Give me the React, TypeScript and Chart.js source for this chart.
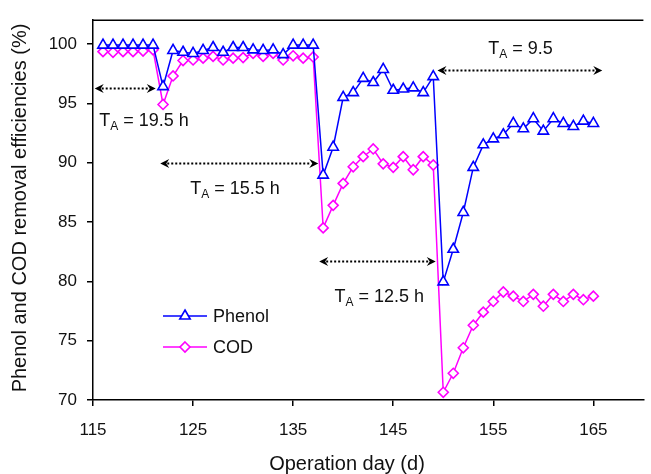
import React, { useEffect, useRef } from 'react';
import { Chart, registerables } from 'chart.js';

Chart.register(...registerables);

const days: number[] = [
  116, 117, 118, 119, 120, 121, 122, 123, 124, 125, 126, 127, 128, 129, 130, 131, 132, 133, 134, 135,
  136, 137, 138, 139, 140, 141, 142, 143, 144, 145, 146, 147, 148, 149, 150, 151, 152, 153, 154, 155,
  156, 157, 158, 159, 160, 161, 162, 163, 164, 165,
];

const phenol: number[] = [
  99.9, 99.9, 99.9, 99.9, 99.9, 99.9,
  96.4,
  99.45, 99.3, 99.2, 99.45, 99.7, 99.3, 99.7, 99.7, 99.5, 99.45, 99.5, 99.1, 99.9, 99.9, 99.9,
  88.95, 91.3, 95.5, 95.9, 97.1, 96.75, 97.85, 96.1, 96.2, 96.3, 95.9, 97.25,
  79.95, 82.7, 85.8, 89.6, 91.5, 92.0, 92.35, 93.3, 92.85, 93.7, 92.65, 93.7, 93.3, 93.05, 93.5, 93.3,
];

const cod: number[] = [
  99.35, 99.3, 99.35, 99.35, 99.4, 99.5,
  94.9,
  97.3, 98.6, 98.65, 98.8, 98.95, 98.65, 98.8, 98.85, 99.2, 98.95, 99.2, 98.65, 99.0, 98.8, 98.9,
  84.5, 86.4, 88.25, 89.65, 90.5, 91.15, 89.9, 89.6, 90.5, 89.4, 90.5, 89.8,
  70.65, 72.25, 74.4, 76.3, 77.4, 78.3, 79.1, 78.75, 78.3, 78.9, 77.9, 78.9, 78.3, 78.9, 78.45, 78.75,
];

const seriesNames: string[] = ['Phenol', 'COD'];

// axis ranges / ticks
const xRange: number[] = [115, 170];
const xTicks: number[] = [115, 125, 135, 145, 155, 165];
const yRange: number[] = [70, 102];
const yTicks: number[] = [70, 75, 80, 85, 90, 95, 100];

// hydraulic retention time annotations (data coordinates)
const arrowFrom: number[] = [115.17, 121.72, 137.6, 149.42];
const arrowTo: number[] = [121.27, 137.51, 149.25, 165.89];
const arrowLevel: number[] = [96.31, 90.0, 81.67, 97.8];
const labelText: string[] = ['= 19.5 h', '= 15.5 h', '= 12.5 h', '= 9.5'];
const labelDay: number[] = [115.62, 124.71, 139.14, 154.5];
const labelLevel: number[] = [93.07, 87.36, 78.29, 99.18];

const FONT = 'Arial, "Liberation Sans", sans-serif';
const BLUE = '#0000ff';
const MAGENTA = '#ff00ff';

function drawArrowHead(ctx: CanvasRenderingContext2D, tipX: number, y: number, dir: number) {
  ctx.beginPath();
  ctx.moveTo(tipX, y);
  ctx.lineTo(tipX + dir * 9, y - 4.5);
  ctx.lineTo(tipX + dir * 6, y);
  ctx.lineTo(tipX + dir * 9, y + 4.5);
  ctx.closePath();
  ctx.fill();
}

function markerPath(ctx: CanvasRenderingContext2D, style: string, r: number, x: number, y: number) {
  ctx.beginPath();
  if (style === 'triangle') {
    for (let k = 0; k < 3; k++) {
      const a = (k * 2 * Math.PI) / 3;
      const px = x + Math.sin(a) * r;
      const py = y - Math.cos(a) * r;
      if (k === 0) ctx.moveTo(px, py);
      else ctx.lineTo(px, py);
    }
  } else {
    ctx.moveTo(x, y - r);
    ctx.lineTo(x + r, y);
    ctx.lineTo(x, y + r);
    ctx.lineTo(x - r, y);
  }
  ctx.closePath();
}

const overlayPlugin = {
  id: 'overlay',
  afterDraw(chart: any) {
    const { ctx, chartArea, scales } = chart;
    const xs = scales.x;
    const ys = scales.y;
    ctx.save();
    // top frame line
    ctx.strokeStyle = '#000';
    ctx.lineWidth = 1.5;
    ctx.beginPath();
    ctx.moveTo(chartArea.left, chartArea.top);
    ctx.lineTo(chartArea.right, chartArea.top);
    ctx.stroke();

    // arrows
    ctx.fillStyle = '#000';
    for (let i = 0; i < arrowFrom.length; i++) {
      const x1 = xs.getPixelForValue(arrowFrom[i]);
      const x2 = xs.getPixelForValue(arrowTo[i]);
      const yy = Math.round(ys.getPixelForValue(arrowLevel[i])) + 0.5;
      ctx.save();
      ctx.setLineDash([2, 2]);
      ctx.lineWidth = 2;
      ctx.strokeStyle = '#000';
      ctx.beginPath();
      ctx.moveTo(x1 + 7, yy);
      ctx.lineTo(x2 - 7, yy);
      ctx.stroke();
      ctx.restore();
      drawArrowHead(ctx, x1, yy, 1);
      drawArrowHead(ctx, x2, yy, -1);
    }

    // labels T_A = ...
    ctx.fillStyle = '#111';
    ctx.textBaseline = 'alphabetic';
    ctx.textAlign = 'left';
    for (let i = 0; i < labelText.length; i++) {
      let px = xs.getPixelForValue(labelDay[i]);
      const py = ys.getPixelForValue(labelLevel[i]);
      ctx.font = `18px ${FONT}`;
      ctx.fillText('T', px, py);
      px += ctx.measureText('T').width;
      ctx.font = `12px ${FONT}`;
      ctx.fillText('A', px, py + 4);
      px += ctx.measureText('A').width;
      ctx.font = `18px ${FONT}`;
      ctx.fillText(' ' + labelText[i], px, py);
    }

    // legend
    const legendX = 163;
    const legendY = [316, 347];
    const colors = [BLUE, MAGENTA];
    const styles = ['triangle', 'rectRot'];
    const radii = [6, 5];
    for (let i = 0; i < 2; i++) {
      const ly = legendY[i];
      ctx.strokeStyle = colors[i];
      ctx.lineWidth = 1.5;
      ctx.beginPath();
      ctx.moveTo(legendX, ly);
      ctx.lineTo(legendX + 44, ly);
      ctx.stroke();
      ctx.fillStyle = '#fff';
      ctx.lineWidth = 1.6;
      markerPath(ctx, styles[i], radii[i], legendX + 22, ly);
      ctx.fill();
      ctx.stroke();
      ctx.fillStyle = '#111';
      ctx.font = `18px ${FONT}`;
      ctx.textBaseline = 'middle';
      ctx.textAlign = 'left';
      ctx.fillText(seriesNames[i], legendX + 50, ly + 1);
    }

    // axis titles
    ctx.fillStyle = '#111';
    ctx.font = `20px ${FONT}`;
    ctx.textAlign = 'center';
    ctx.textBaseline = 'middle';
    ctx.fillText('Operation day (d)', 347, 464);
    ctx.save();
    ctx.translate(20, 208);
    ctx.rotate(-Math.PI / 2);
    ctx.fillText('Phenol and COD removal efficiencies (%)', 0, 0);
    ctx.restore();

    ctx.restore();
  },
};

export default function App() {
  const ref = useRef<HTMLCanvasElement | null>(null);

  useEffect(() => {
    if (!ref.current) return;
    const chart = new Chart(ref.current, {
      type: 'line',
      data: {
        datasets: [
          {
            label: seriesNames[0],
            data: days.map((d, i) => ({ x: d, y: phenol[i] })),
            borderColor: BLUE,
            backgroundColor: '#ffffff',
            borderWidth: 1.5,
            pointStyle: 'triangle',
            pointRadius: 6,
            pointBorderWidth: 1.6,
            pointBackgroundColor: '#ffffff',
            pointBorderColor: BLUE,
            tension: 0,
          },
          {
            label: seriesNames[1],
            data: days.map((d, i) => ({ x: d, y: cod[i] })),
            borderColor: MAGENTA,
            backgroundColor: '#ffffff',
            borderWidth: 1.5,
            pointStyle: 'rectRot',
            pointRadius: 5,
            pointBorderWidth: 1.6,
            pointBackgroundColor: '#ffffff',
            pointBorderColor: MAGENTA,
            tension: 0,
          },
        ],
      },
      options: {
        responsive: false,
        animation: false,
        events: [],
        layout: { padding: { top: 12, right: 0, left: 0, bottom: 0 } },
        plugins: {
          legend: { display: false },
          tooltip: { enabled: false },
          title: { display: false },
        },
        scales: {
          x: {
            type: 'linear',
            min: xRange[0],
            max: xRange[1],
            afterBuildTicks: (scale: any) => {
              scale.ticks = xTicks.map((v) => ({ value: v }));
            },
            afterFit: (scale: any) => {
              scale.height = 74;
            },
            ticks: {
              color: '#111',
              font: { family: FONT, size: 17 },
              padding: 14,
              maxRotation: 0,
              autoSkip: false,
              callback: (v: any) => String(v),
            },
            grid: { drawOnChartArea: false, color: '#000', tickLength: 6, lineWidth: 1.5 },
            border: { color: '#000', width: 1.5 },
          },
          y: {
            type: 'linear',
            min: yRange[0],
            max: yRange[1],
            afterBuildTicks: (scale: any) => {
              scale.ticks = yTicks.map((v) => ({ value: v }));
            },
            afterFit: (scale: any) => {
              scale.width = 93;
            },
            ticks: {
              color: '#111',
              font: { family: FONT, size: 17 },
              padding: 10,
              autoSkip: false,
              callback: (v: any) => String(v),
            },
            grid: { drawOnChartArea: false, color: '#000', tickLength: 6, lineWidth: 1.5 },
            border: { color: '#000', width: 1.5 },
          },
        },
      },
      plugins: [overlayPlugin],
    });
    return () => chart.destroy();
  }, []);

  return (
    <div style={{ position: 'fixed', left: 0, top: 0, width: 651, height: 474, background: '#fff' }}>
      <canvas ref={ref} width={651} height={474} style={{ width: 651, height: 474 }} />
    </div>
  );
}
